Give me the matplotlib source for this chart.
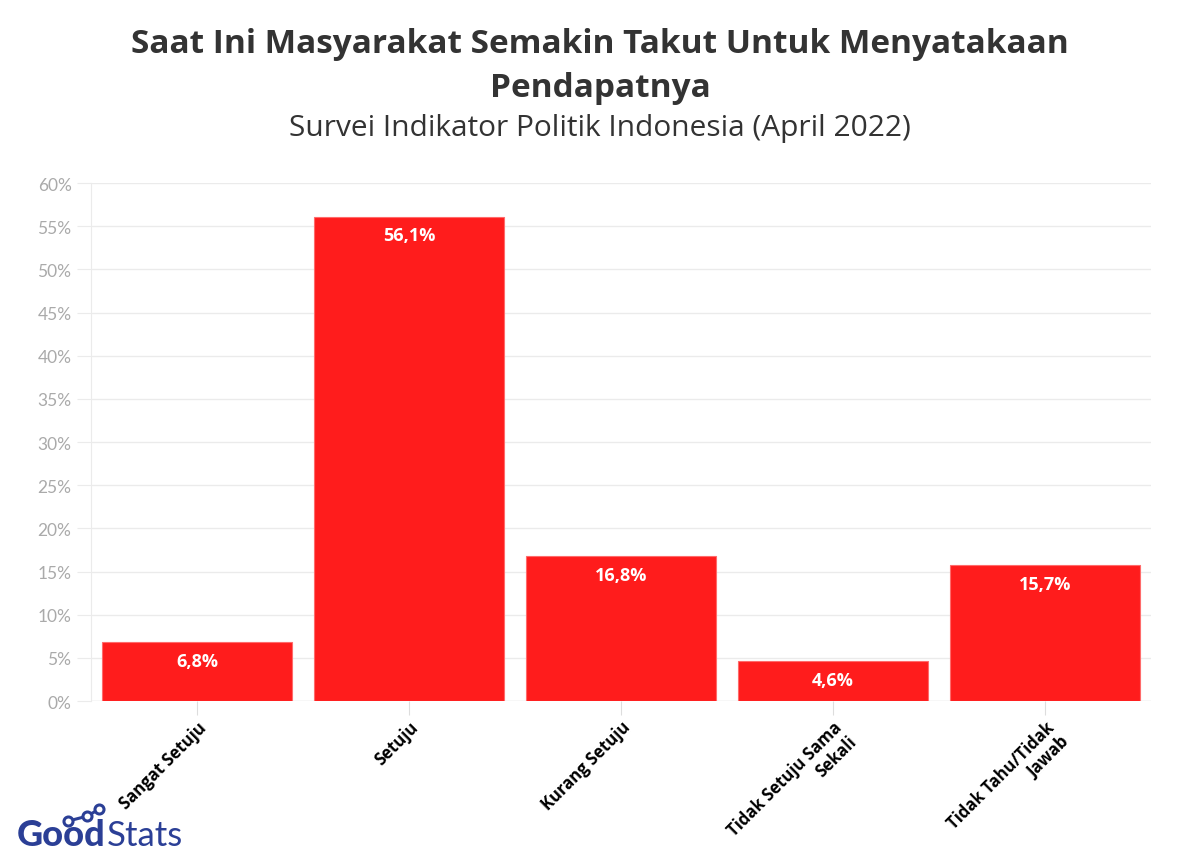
import matplotlib
matplotlib.use("Agg")
import matplotlib.pyplot as plt
from matplotlib.ticker import MultipleLocator, FuncFormatter

categories = ["Sangat Setuju", "Setuju", "Kurang Setuju", "Tidak Setuju Sama\nSekali", "Tidak Tahu/Tidak\nJawab"]
values = [6.8, 56.1, 16.8, 4.6, 15.7]
value_labels = ["6,8%", "56,1%", "16,8%", "4,6%", "15,7%"]
title = "Saat Ini Masyarakat Semakin Takut Untuk Menyatakaan\nPendapatnya"
subtitle = "Survei Indikator Politik Indonesia (April 2022)"

fig = plt.figure(figsize=(12, 8.62), dpi=100)
ax = fig.add_axes([0.0758, 0.1856, 0.8834, 0.6009])

x = list(range(len(categories)))
ax.bar(x, values, width=0.9, color="#ff1c1c", edgecolor="#ff6b6b", linewidth=0.8, zorder=3)
for xi, v, lab in zip(x, values, value_labels):
    ax.annotate(lab, (xi, v), xytext=(0, -7), textcoords="offset points",
                ha="center", va="top", color="white", fontsize=13,
                fontweight="bold", family="Open Sans", zorder=4)

ax.set_xlim(-0.5, len(categories) - 0.5)
ax.set_ylim(0, 60)
ax.yaxis.set_major_locator(MultipleLocator(5))
ax.yaxis.set_major_formatter(FuncFormatter(lambda v, p: f"{v:.0f}%"))
ax.grid(axis="y", color="#ebebeb", linewidth=1, zorder=0)
for s in ["top", "right", "bottom"]:
    ax.spines[s].set_visible(False)
ax.spines["left"].set_color("#ebebeb")
ax.tick_params(axis="y", colors="#ebebeb", length=10, labelcolor="#aaaaaa", labelsize=12.5, pad=4)
ax.tick_params(axis="x", colors="#dddddd", length=10, labelcolor="black", pad=2)
for t in ax.get_yticklabels():
    t.set_family("Lato")
ax.set_xticks(x)
ax.set_xticklabels(categories, rotation=45, ha="right", va="top", rotation_mode="anchor",
                   fontsize=12, fontweight="bold", family="Open Sans", multialignment="right")
ax.axhline(0, color="#ebebeb", linewidth=1, zorder=2)

fig.text(0.5, 0.968, title, ha="center", va="top", fontsize=24, fontweight="bold",
         family="Open Sans", color="#333333", linespacing=1.45)
fig.text(0.5, 0.868, subtitle, ha="center", va="top", fontsize=21.5,
         family="Open Sans", color="#333333")

# logo
blue = "#2b3f96"
t_good = fig.text(0.014, 0.018, "Good", ha="left", va="baseline", fontsize=26, fontweight="black",
                  family="Lato", color=blue)
fig.canvas.draw()
bb = t_good.get_window_extent()
fig.text((bb.x1 + 1) / fig.bbox.width, 0.018, "Stats", ha="left", va="baseline", fontsize=25,
         fontweight="normal", family="Lato", color=blue)
lx = [0.057, 0.0725, 0.0825]
ly = [0.0464, 0.052, 0.060]
fig.lines.append(plt.Line2D(lx, ly, transform=fig.transFigure,
                            color=blue, linewidth=2.2, marker="o", markersize=6.5,
                            markerfacecolor="white", markeredgewidth=2.2))

fig.savefig("out.png", dpi=100, facecolor="white")
